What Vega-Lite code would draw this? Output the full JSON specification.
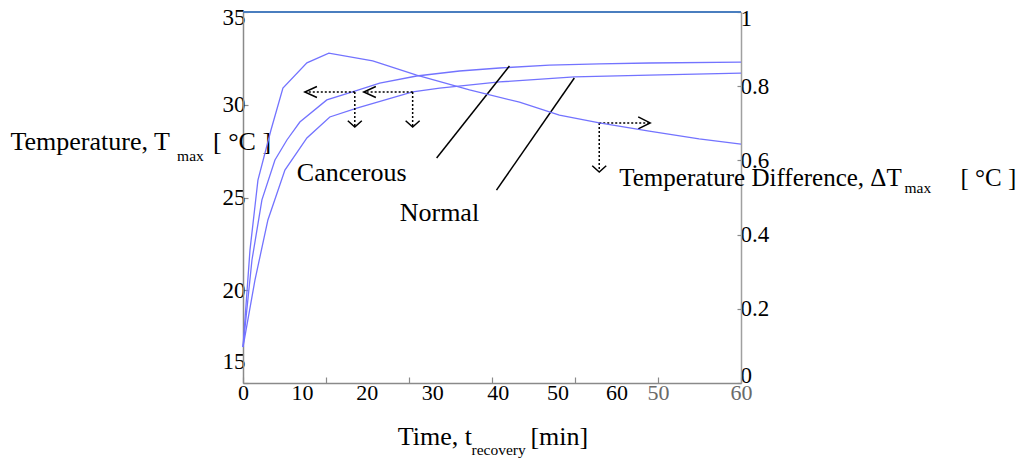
{
  "$schema": "https://vega.github.io/schema/vega-lite/v6.json",
  "width": 498,
  "height": 371,
  "autosize": {"type": "none"},
  "padding": {"left": 243, "top": 12, "right": 289, "bottom": 76},
  "background": "white",
  "config": {
    "view": {"stroke": null},
    "font": "Liberation Serif",
    "axis": {
      "grid": false,
      "domainColor": "#8a8a8a",
      "tickColor": "#8a8a8a",
      "domainWidth": 1.5,
      "tickWidth": 1.2,
      "labelFont": "Liberation Serif",
      "labelFontSize": 22,
      "labelColor": "black"
    }
  },
  "datasets": {
    "temps": [
      {"tissue": "Cancerous", "t": 0, "T": 16.94},
      {"tissue": "Cancerous", "t": 1.08, "T": 21.63},
      {"tissue": "Cancerous", "t": 2.28, "T": 24.87},
      {"tissue": "Cancerous", "t": 3.85, "T": 27.02},
      {"tissue": "Cancerous", "t": 5.29, "T": 28.10},
      {"tissue": "Cancerous", "t": 6.85, "T": 29.07},
      {"tissue": "Cancerous", "t": 10.1, "T": 30.26},
      {"tissue": "Cancerous", "t": 13.47, "T": 30.74},
      {"tissue": "Cancerous", "t": 16.47, "T": 31.17},
      {"tissue": "Cancerous", "t": 20.92, "T": 31.55},
      {"tissue": "Cancerous", "t": 26.09, "T": 31.82},
      {"tissue": "Cancerous", "t": 30.9, "T": 31.98},
      {"tissue": "Cancerous", "t": 36.91, "T": 32.14},
      {"tissue": "Cancerous", "t": 42.92, "T": 32.20},
      {"tissue": "Cancerous", "t": 48.94, "T": 32.25},
      {"tissue": "Cancerous", "t": 60, "T": 32.30},
      {"tissue": "Normal", "t": 0, "T": 16.94},
      {"tissue": "Normal", "t": 1.44, "T": 20.55},
      {"tissue": "Normal", "t": 3.0, "T": 23.79},
      {"tissue": "Normal", "t": 5.05, "T": 26.48},
      {"tissue": "Normal", "t": 7.7, "T": 28.21},
      {"tissue": "Normal", "t": 10.46, "T": 29.34},
      {"tissue": "Normal", "t": 13.71, "T": 29.82},
      {"tissue": "Normal", "t": 20.44, "T": 30.69},
      {"tissue": "Normal", "t": 23.69, "T": 30.90},
      {"tissue": "Normal", "t": 30.9, "T": 31.23},
      {"tissue": "Normal", "t": 39.92, "T": 31.50},
      {"tissue": "Normal", "t": 48.94, "T": 31.60},
      {"tissue": "Normal", "t": 60, "T": 31.71}
    ],
    "diff": [
      {"t": 0, "dT": 0.097},
      {"t": 0.84, "dT": 0.358},
      {"t": 1.8, "dT": 0.547},
      {"t": 3.37, "dT": 0.682},
      {"t": 4.81, "dT": 0.795},
      {"t": 7.7, "dT": 0.863},
      {"t": 10.34, "dT": 0.889},
      {"t": 15.63, "dT": 0.868},
      {"t": 20.92, "dT": 0.830},
      {"t": 27.29, "dT": 0.790},
      {"t": 33.31, "dT": 0.757},
      {"t": 38.12, "dT": 0.722},
      {"t": 42.93, "dT": 0.701},
      {"t": 48.94, "dT": 0.679},
      {"t": 54.95, "dT": 0.658},
      {"t": 60, "dT": 0.644}
    ],
    "top": [
      {"t": 0, "v": 1},
      {"t": 60, "v": 1}
    ],
    "dotted": [
      {"x": 13.47, "y": 30.69, "x2": 7.45, "y2": 30.69},
      {"x": 20.44, "y": 30.69, "x2": 14.55, "y2": 30.69},
      {"x": 13.47, "y": 30.69, "x2": 13.47, "y2": 28.85},
      {"x": 20.44, "y": 30.69, "x2": 20.44, "y2": 28.85},
      {"x": 42.92, "y": 29.02, "x2": 49.06, "y2": 29.02},
      {"x": 42.92, "y": 29.02, "x2": 42.92, "y2": 26.43}
    ],
    "pointers": [
      {"x": 23.33, "y": 27.13, "x2": 32.1, "y2": 32.09},
      {"x": 30.54, "y": 25.40, "x2": 39.92, "y2": 31.44}
    ],
    "headsLeft": [
      {"x": 7.45, "y": 30.69},
      {"x": 14.55, "y": 30.69}
    ],
    "headsDown": [
      {"x": 13.47, "y": 28.80},
      {"x": 20.44, "y": 28.80},
      {"x": 42.92, "y": 26.37}
    ],
    "headsRight": [
      {"x": 49.06, "y": 29.02}
    ],
    "bigText": [
      {"x": 6.49, "y": 25.89, "label": "Cancerous"},
      {"x": 18.88, "y": 23.73, "label": "Normal"},
      {"x": -28.02, "y": 27.56, "label": "Temperature, T"},
      {"x": -3.61, "y": 27.56, "label": "[ °C ]"},
      {"x": 18.64, "y": 11.66, "label": "Time, t"},
      {"x": 34.63, "y": 11.66, "label": "[min]"}
    ],
    "rightTitle": [
      {"x": 45.33, "y": 25.62, "label": "Temperature Difference, ΔT"},
      {"x": 86.45, "y": 25.62, "label": "[ °C ]"}
    ],
    "subText": [
      {"x": -7.94, "y": 26.97, "label": "max"},
      {"x": 79.7, "y": 25.24, "label": "max"},
      {"x": 27.53, "y": 11.12, "label": "recovery"}
    ]
  },
  "layer": [
    {
      "layer": [
        {
          "data": {"name": "temps"},
          "mark": {"type": "line", "strokeWidth": 1.3, "color": "#7373ff"},
          "encoding": {
            "x": {
              "field": "t", "type": "quantitative",
              "scale": {"domain": [0, 60], "nice": false, "zero": false},
              "axis": {
                "title": null,
                "values": [0, 7.1, 10, 14.9, 20, 22.8, 30, 30.7, 37.9, 40, 45, 50, 60],
                "labelExpr": "datum.value==0?'0':datum.value==7.1?'10':datum.value==14.9?'20':datum.value==22.8?'30':datum.value==30.7?'40':datum.value==37.9?'50':datum.value==45?'60':datum.value==50?'50':datum.value==60?'60':''",
                "tickOpacity": {"condition": {"test": "datum.value % 10 == 0", "value": 1}, "value": 0},
                "labelColor": {"condition": {"test": "datum.value >= 50", "value": "#6a6a6a"}, "value": "black"},
                "labelFont": "Liberation Serif",
                "labelFontSize": 22,
                "labelFlush": false,
                "labelOverlap": false,
                "labelPadding": 5,
                "tickSize": -6
              }
            },
            "y": {
              "field": "T", "type": "quantitative",
              "scale": {"domain": [15, 35], "nice": false, "zero": false},
              "axis": {
                "title": null,
                "values": [15, 20, 25, 30, 35],
                "labelFont": "Liberation Serif",
                "labelFontSize": 23,
                "labelPadding": 3,
                "tickSize": -5,
                "labelOffset": {"condition": [{"test": "datum.value == 15", "value": -22}, {"test": "datum.value == 35", "value": 5}], "value": 0}
              }
            },
            "detail": {"field": "tissue", "type": "nominal"}
          }
        },
        {
          "data": {"name": "dotted"},
          "mark": {"type": "rule", "color": "black", "strokeWidth": 1.5, "strokeDash": [2, 2]},
          "encoding": {
            "x": {"field": "x", "type": "quantitative", "axis": {"title": null}},
            "y": {"field": "y", "type": "quantitative", "axis": {"title": null}},
            "x2": {"field": "x2"},
            "y2": {"field": "y2"}
          }
        },
        {
          "data": {"name": "pointers"},
          "mark": {"type": "rule", "color": "black", "strokeWidth": 1.5},
          "encoding": {
            "x": {"field": "x", "type": "quantitative", "axis": {"title": null}},
            "y": {"field": "y", "type": "quantitative", "axis": {"title": null}},
            "x2": {"field": "x2"},
            "y2": {"field": "y2"}
          }
        },
        {
          "data": {"name": "headsLeft"},
          "mark": {"type": "point", "shape": "M2.2,-1L0,0L2.2,1", "size": 121, "filled": false, "color": "black", "strokeWidth": 1.5, "opacity": 1},
          "encoding": {
            "x": {"field": "x", "type": "quantitative", "axis": {"title": null}},
            "y": {"field": "y", "type": "quantitative", "axis": {"title": null}}
          }
        },
        {
          "data": {"name": "headsDown"},
          "mark": {"type": "point", "shape": "M-1,-0.9L0,0L1,-0.9", "size": 196, "filled": false, "color": "black", "strokeWidth": 1.5, "opacity": 1},
          "encoding": {
            "x": {"field": "x", "type": "quantitative", "axis": {"title": null}},
            "y": {"field": "y", "type": "quantitative", "axis": {"title": null}}
          }
        },
        {
          "data": {"name": "headsRight"},
          "mark": {"type": "point", "shape": "M-2,-1L0,0L-2,1", "size": 144, "filled": false, "color": "black", "strokeWidth": 1.5, "opacity": 1},
          "encoding": {
            "x": {"field": "x", "type": "quantitative", "axis": {"title": null}},
            "y": {"field": "y", "type": "quantitative", "axis": {"title": null}}
          }
        },
        {
          "data": {"name": "bigText"},
          "mark": {"type": "text", "font": "Liberation Serif", "fontSize": 26, "align": "left", "baseline": "alphabetic", "color": "black"},
          "encoding": {
            "x": {"field": "x", "type": "quantitative", "axis": {"title": null}},
            "y": {"field": "y", "type": "quantitative", "axis": {"title": null}},
            "text": {"field": "label"}
          }
        },
        {
          "data": {"name": "rightTitle"},
          "mark": {"type": "text", "font": "Liberation Serif", "fontSize": 25, "align": "left", "baseline": "alphabetic", "color": "black"},
          "encoding": {
            "x": {"field": "x", "type": "quantitative", "axis": {"title": null}},
            "y": {"field": "y", "type": "quantitative", "axis": {"title": null}},
            "text": {"field": "label"}
          }
        },
        {
          "data": {"name": "subText"},
          "mark": {"type": "text", "font": "Liberation Serif", "fontSize": 15.5, "align": "left", "baseline": "alphabetic", "color": "black"},
          "encoding": {
            "x": {"field": "x", "type": "quantitative", "axis": {"title": null}},
            "y": {"field": "y", "type": "quantitative", "axis": {"title": null}},
            "text": {"field": "label"}
          }
        }
      ]
    },
    {
      "layer": [
        {
          "data": {"name": "diff"},
          "mark": {"type": "line", "strokeWidth": 1.3, "color": "#7373ff"},
          "encoding": {
            "x": {"field": "t", "type": "quantitative", "axis": {"title": null}},
            "y": {
              "field": "dT", "type": "quantitative",
              "scale": {"domain": [0, 1], "nice": false, "zero": false},
              "axis": {
                "title": null,
                "orient": "right",
                "values": [0, 0.2, 0.4, 0.6, 0.8, 1],
                "format": "~g",
                "labelFont": "Liberation Serif",
                "labelFontSize": 23,
                "labelPadding": 3,
                "tickSize": -4,
                "domainColor": "#a0a0a0",
                "labelOffset": {"condition": [{"test": "datum.value == 0", "value": -8}, {"test": "datum.value == 1", "value": 6}], "value": 0}
              }
            }
          }
        },
        {
          "data": {"name": "top"},
          "mark": {"type": "line", "strokeWidth": 2, "color": "#4a7ebf"},
          "encoding": {
            "x": {"field": "t", "type": "quantitative", "axis": {"title": null}},
            "y": {"field": "v", "type": "quantitative", "axis": {"title": null, "orient": "right"}}
          }
        }
      ]
    }
  ],
  "resolve": {"scale": {"y": "independent"}}
}
